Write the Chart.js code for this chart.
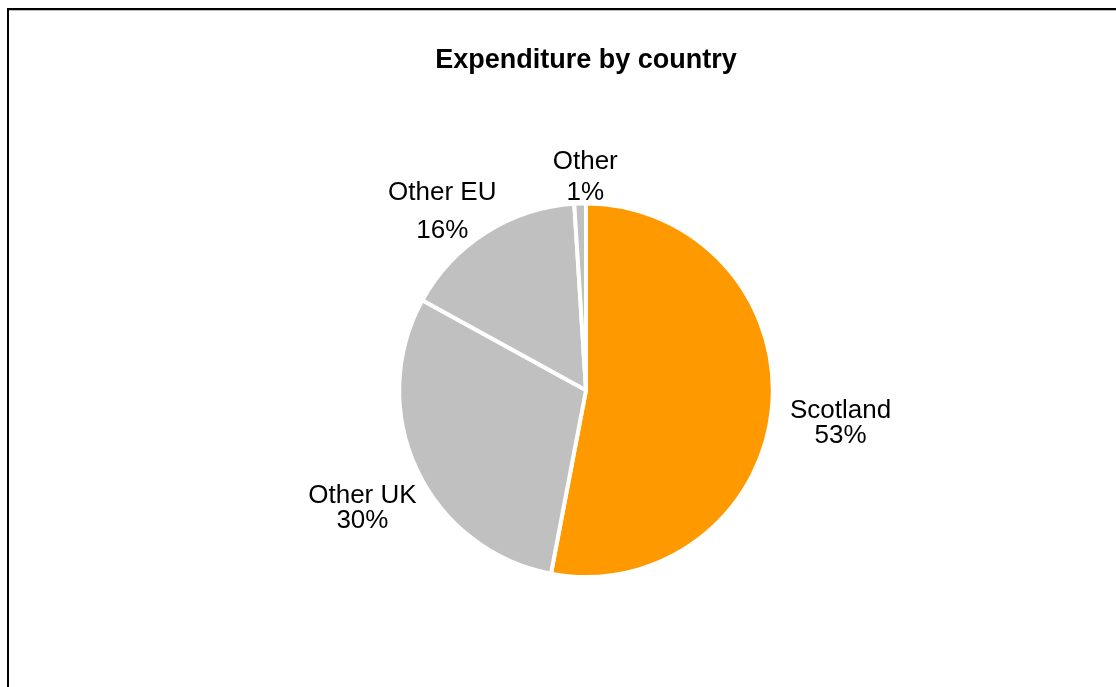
<!DOCTYPE html>
<html>
<head>
<meta charset="utf-8">
<script src="https://cdn.jsdelivr.net/npm/chart.js@4.4.1/dist/chart.umd.min.js"></script>
<style>
  html, body { margin: 0; padding: 0; background: #fff; }
  #wrap { position: relative; width: 1116px; height: 687px; overflow: hidden; }
  #frame {
    position: absolute; left: 7px; top: 8px; width: 1200px; height: 800px;
    border-left: 2px solid #000; border-top: 2px solid #000;
    box-shadow: inset 0 1px 0 #bdbdbd;
  }
  canvas { position: absolute; left: 0; top: 0; }
</style>
</head>
<body>
<div id="wrap">
  <div id="frame"></div>
  <canvas id="myChart" width="1116" height="687"></canvas>
</div>
<script>
// expenditure shares, clockwise from 12 o'clock
const countries = ['Scotland', 'Other UK', 'Other EU', 'Other'];
const shares = [53, 30, 16, 1];
const sliceColours = ['#FF9900', '#C0C0C0', '#C0C0C0', '#C0C0C0'];

// where each data label sits, relative to its slice (angle nudge in degrees, distance in radii)
const labelPlace = [
    {shift: 2.0,  dist: 1.374, gap: 25},
    {shift: -2.6, dist: 1.353, gap: 25},
    {shift: -6.4, dist: 1.228, gap: 38},
    {shift: 1.6,  dist: 1.139, gap: 31}
];

const pieLabels = {
    id: 'pieLabels',
    afterDraw(chart) {
        const c = chart.ctx;
        const arcs = chart.getDatasetMeta(0).data;
        c.save();
        c.font = '26px "Liberation Sans", Arial, sans-serif';
        c.fillStyle = '#000';
        c.textAlign = 'center';
        c.textBaseline = 'middle';
        arcs.forEach(function(arc, i){
            const p = labelPlace[i];
            const mid = (arc.startAngle + arc.endAngle) / 2 + p.shift * Math.PI / 180;
            const r = arc.outerRadius * p.dist;
            const x = arc.x + Math.cos(mid) * r;
            const y = arc.y + Math.sin(mid) * r;
            c.fillText(countries[i], x, y - p.gap / 2);
            c.fillText(shares[i] + '%', x, y + p.gap / 2);
        });
        c.restore();
    }
};

const ctx = document.getElementById('myChart').getContext('2d');
const myChart = new Chart(ctx, {
    type: 'pie',
    data: {
        labels: countries,
        datasets: [{
            data: shares,
            backgroundColor: sliceColours,
            borderColor: '#ffffff',
            borderWidth: 4,
            hoverOffset: 0
        }]
    },
    options: {
        responsive: false,
        animation: false,
        events: [],
        layout: {
            padding: {left: 56, right: 0, top: 0, bottom: 108}
        },
        plugins: {
            legend: {display: false},
            tooltip: {enabled: false},
            title: {
                display: true,
                text: 'Expenditure by country',
                color: '#000',
                font: {family: '"Liberation Sans", Arial, sans-serif', size: 27, weight: 'bold'},
                padding: {top: 44, bottom: 125}
            }
        }
    },
    plugins: [pieLabels]
});
</script>
</body>
</html>
